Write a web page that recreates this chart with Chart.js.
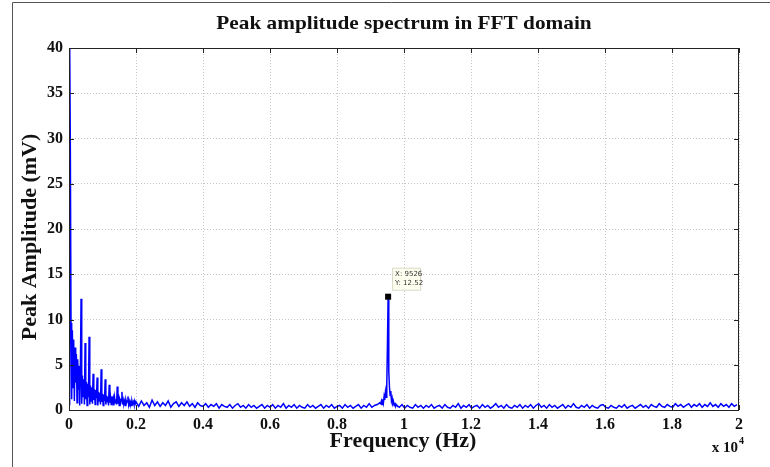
<!DOCTYPE html>
<html>
<head>
<meta charset="utf-8">
<script src="https://cdn.jsdelivr.net/npm/chart.js@4.4.0/dist/chart.umd.min.js"></script>
<style>
  html, body { margin: 0; padding: 0; background: #fff; }
  #wrap { width: 770px; height: 467px; position: relative; }
</style>
</head>
<body>
<div id="wrap"><canvas id="fftChart" width="770" height="467"></canvas></div>
<script>
// spectrum, in segments of equal frequency step (Hz)
var lowStart = 0, lowStep = 20;
var lowAmp = [
    0.6, 41, 29, 9.6, 1.2, 8.8, 2.5, 7.8, 1.0, 6.9,
    3.0, 6.2, 0.8, 5.6, 2.2, 4.9, 0.5, 4.3, 12.3, 0.7,
    3.8, 1.5, 3.4, 0.6, 7.4, 1.2, 3.1, 0.5, 2.9, 1.4,
    8.1, 0.6, 2.7, 1.0, 2.5, 0.7, 4.0, 1.1, 2.3, 0.6,
    2.2, 1.3, 3.6, 0.5, 2.0, 1.0, 1.9, 0.6, 4.5, 0.9,
    1.8, 0.5, 1.7, 1.0, 3.4, 0.6, 1.6, 0.9, 1.5, 0.5,
    2.8, 0.8, 1.4, 0.6, 1.5, 0.9, 1.3, 0.5, 1.4, 0.8,
    1.2, 0.6, 2.6, 0.7, 1.2, 0.5, 1.1, 0.8, 1.2, 2.0,
    0.6, 1.1, 0.7, 1.0, 0.5, 1.1, 0.8, 1.0, 1.5, 0.6,
    1.0, 0.7, 0.9, 0.5, 1.0, 0.7, 0.9, 0.6, 1.0, 0.7
];
var midStart = 2000, midStep = 80;
var midAmp = [
    0.9, 0.4, 1.0, 0.5, 0.8, 0.3, 1.1, 0.5, 0.9, 0.4,
    0.8, 0.5, 1.0, 0.3, 0.7, 0.9, 0.4, 0.8, 0.5, 0.9,
    0.4, 0.7, 0.3, 0.8, 0.5, 0.4, 0.7, 0.3, 0.6, 0.4,
    0.7, 0.2, 0.6, 0.4, 0.3, 0.6, 0.2, 0.5, 0.7, 0.3,
    0.5, 0.2, 0.6, 0.3, 0.5, 0.2, 0.4, 0.6, 0.2, 0.5,
    0.3, 0.6, 0.2, 0.5, 0.3, 0.7, 0.2, 0.5, 0.3, 0.6,
    0.2, 0.5, 0.3, 0.2, 0.6, 0.3, 0.5, 0.2, 0.4, 0.6,
    0.2, 0.5, 0.3, 0.6, 0.2, 0.4, 0.5, 0.2, 0.6, 0.3,
    0.5, 0.2, 0.4, 0.6, 0.2, 0.5, 0.3, 0.7, 0.3, 0.5,
    0.6, 0.8
];
var peakStart = 9306, peakStep = 20;
var peakAmp = [
    0.7, 1.0, 0.6, 1.2, 0.8, 1.5, 1.1, 2.0, 1.4, 2.8,
    7.3, 12.52, 4.2, 2.5, 1.6, 2.1, 1.0, 1.3, 0.7, 0.9,
    0.5, 0.8, 0.4, 0.6, 0.5
];
var highStart = 9860, highStep = 80;
var highAmp = [
    0.3, 0.6, 0.2, 0.5, 0.3, 0.2, 0.6, 0.3, 0.5, 0.2,
    0.5, 0.3, 0.6, 0.2, 0.4, 0.5, 0.2, 0.6, 0.3, 0.2,
    0.5, 0.3, 0.7, 0.2, 0.5, 0.3, 0.6, 0.2, 0.4, 0.5,
    0.2, 0.6, 0.3, 0.5, 0.2, 0.4, 0.7, 0.3, 0.5, 0.2,
    0.6, 0.3, 0.2, 0.5, 0.3, 0.6, 0.2, 0.5, 0.3, 0.6,
    0.2, 0.5, 0.7, 0.3, 0.5, 0.2, 0.6, 0.3, 0.5, 0.2,
    0.4, 0.6, 0.2, 0.5, 0.3, 0.7, 0.3, 0.2, 0.5, 0.3,
    0.6, 0.2, 0.5, 0.3, 0.2, 0.5, 0.6, 0.3, 0.2, 0.5,
    0.3, 0.2, 0.5, 0.3, 0.6, 0.2, 0.4, 0.5, 0.2, 0.4,
    0.6, 0.3, 0.5, 0.2, 0.6, 0.4, 0.3, 0.7, 0.4, 0.3,
    0.6, 0.4, 0.3, 0.7, 0.4, 0.6, 0.3, 0.5, 0.7, 0.3,
    0.6, 0.4, 0.7, 0.3, 0.6, 0.4, 0.8, 0.4, 0.6, 0.3,
    0.7, 0.4, 0.6, 0.3, 0.7, 0.4, 0.6
];
var xTickLabels = ['0', '0.2', '0.4', '0.6', '0.8', '1', '1.2', '1.4', '1.6', '1.8', '2'];
var tipX = 9526, tipY = 12.52;

(function () {
    function segment(start, step, amps) {
        return amps.map(function (a, i) { return { x: start + i * step, y: a }; });
    }
    var points = [].concat(
        segment(lowStart, lowStep, lowAmp),
        segment(midStart, midStep, midAmp),
        segment(peakStart, peakStep, peakAmp),
        segment(highStart, highStep, highAmp)
    );

    var serif = '"Liberation Serif", "Times New Roman", serif';

    // text stretched wider, like the original
    function wideText(c, text, x, y, sx) {
        c.save();
        c.translate(x, y);
        c.scale(sx, 1);
        c.fillText(text, 0, 0);
        c.restore();
    }

    var decor = {
        id: 'decor',
        afterDraw: function (chart) {
            var c = chart.ctx, a = chart.chartArea;
            var xs = chart.scales.x, ys = chart.scales.y;
            c.save();
            // outer figure frame
            c.strokeStyle = '#555';
            c.lineWidth = 1;
            c.beginPath();
            c.moveTo(12.5, 467); c.lineTo(12.5, 2.5); c.lineTo(770, 2.5);
            c.stroke();
            // axes box
            c.strokeStyle = '#222';
            c.strokeRect(a.left + 0.5, a.top + 0.5, a.right - a.left - 1, a.bottom - a.top);
            // inward tick marks
            c.beginPath();
            xs.ticks.forEach(function (t) {
                var px = Math.round(xs.getPixelForValue(t.value)) + 0.5;
                c.moveTo(px, a.bottom); c.lineTo(px, a.bottom - 5);
                c.moveTo(px, a.top); c.lineTo(px, a.top + 5);
            });
            ys.ticks.forEach(function (t) {
                var py = Math.round(ys.getPixelForValue(t.value)) + 0.5;
                c.moveTo(a.left, py); c.lineTo(a.left + 5, py);
                c.moveTo(a.right, py); c.lineTo(a.right - 5, py);
            });
            c.stroke();
            // texts
            c.fillStyle = '#111';
            c.textAlign = 'center';
            c.textBaseline = 'middle';
            c.font = 'bold 19px ' + serif;
            wideText(c, 'Peak amplitude spectrum in FFT domain', 404, 24, 1.12);
            c.font = 'bold 20px ' + serif;
            wideText(c, 'Frequency (Hz)', 403, 442, 1.1);
            c.save();
            c.translate(31, 237);
            c.rotate(-Math.PI / 2);
            wideText(c, 'Peak Amplitude (mV)', 0, 0, 1.1);
            c.restore();
            c.font = 'bold 15px ' + serif;
            c.textAlign = 'right';
            c.fillText('x 10', 738, 448);
            c.font = 'bold 10px ' + serif;
            c.textAlign = 'left';
            c.fillText('4', 739, 441);
            // data tip
            var px = xs.getPixelForValue(tipX), py = ys.getPixelForValue(tipY);
            c.fillStyle = '#000';
            c.fillRect(px - 3, py - 3, 6, 6);
            c.fillStyle = '#fffff0';
            c.strokeStyle = '#d8d8c8';
            c.fillRect(px + 4, py - 29, 28, 22);
            c.strokeRect(px + 4.5, py - 28.5, 28, 22);
            c.fillStyle = '#333';
            c.font = '7px "DejaVu Sans", sans-serif';
            c.textAlign = 'left';
            c.fillText('X: ' + tipX, px + 7, py - 23);
            c.fillText('Y: ' + tipY, px + 7, py - 14);
            c.restore();
        }
    };

    new Chart(document.getElementById('fftChart'), {
        type: 'line',
        data: {
            datasets: [{
                data: points,
                borderColor: '#0000ff',
                borderWidth: 1.5,
                pointRadius: 0,
                tension: 0,
                fill: false
            }]
        },
        options: {
            responsive: false,
            animation: false,
            events: [],
            layout: { padding: { top: 48, right: 31, left: 0, bottom: 0 } },
            plugins: { legend: { display: false }, tooltip: { enabled: false } },
            scales: {
                x: {
                    type: 'linear',
                    min: 0,
                    max: 20000,
                    afterFit: function (s) { s.height = 57; },
                    ticks: {
                        stepSize: 2000,
                        maxRotation: 0,
                        padding: 5,
                        color: '#111',
                        font: { family: serif, size: 16, weight: 'bold' },
                        callback: function (v, i) { return xTickLabels[i]; }
                    },
                    grid: { color: '#c4c4c4', drawTicks: false },
                    border: { display: false, dash: [1, 2] }
                },
                y: {
                    min: 0,
                    max: 40,
                    afterFit: function (s) { s.width = 69; },
                    ticks: {
                        stepSize: 5,
                        padding: 6,
                        color: '#111',
                        font: { family: serif, size: 16, weight: 'bold' }
                    },
                    grid: { color: '#c4c4c4', drawTicks: false },
                    border: { display: false, dash: [1, 2] }
                }
            }
        },
        plugins: [decor]
    });
})();
</script>
</body>
</html>
